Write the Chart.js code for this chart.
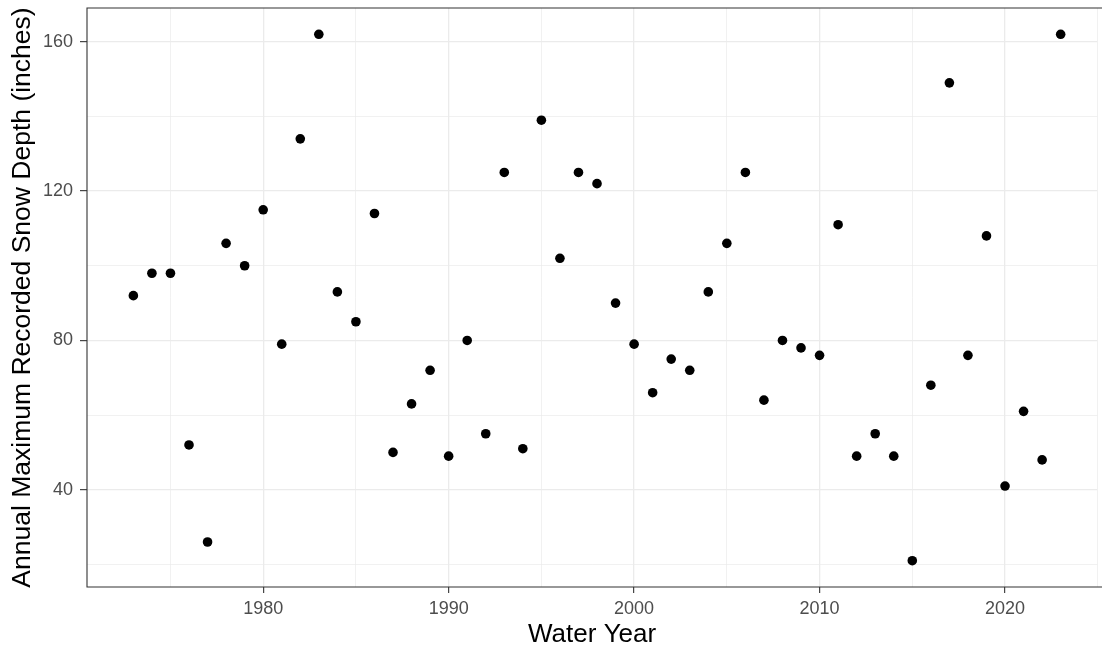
<!DOCTYPE html>
<html>
<head>
<meta charset="utf-8">
<script src="https://cdn.jsdelivr.net/npm/chart.js@4.4.0/dist/chart.umd.min.js"></script>
<style>
  html, body { margin: 0; padding: 0; background: #ffffff; overflow: hidden; }
  #wrap { position: relative; width: 1102px; height: 650px; overflow: hidden; }
  #c { display: block; }
</style>
</head>
<body>
<div id="wrap"><canvas id="c" width="1102" height="650"></canvas></div>
<script>
// ---- data ----
const years = [1973,1974,1975,1976,1977,1978,1979,1980,1981,1982,1983,1984,1985,1986,1987,1988,1989,1990,1991,1992,1993,1994,1995,1996,1997,1998,1999,2000,2001,2002,2003,2004,2005,2006,2007,2008,2009,2010,2011,2012,2013,2014,2015,2016,2017,2018,2019,2020,2021,2022,2023];
const snowDepth = [92,98,98,52,26,106,100,115,79,134,162,93,85,114,50,63,72,49,80,55,125,51,139,102,125,122,90,79,66,75,72,93,106,125,64,80,78,76,111,49,55,49,21,68,149,76,108,41,61,48,162];

const xMajorTicks = [1980,1990,2000,2010,2020];
const xMinorTicks = [1975,1985,1995,2005,2015,2025];
const yMajorTicks = [40,80,120,160];
const yMinorTicks = [20,60,100,140];

// visible window (the panel's right edge is cut off by the picture edge)
const xRange = [1970.5, 2024.97];
const yRange = [13.95, 169.05];

const xTitle = 'Water Year';
const yTitle = 'Annual Maximum Recorded Snow Depth (inches)';

// ---- chart ----
const points = years.map((y, i) => ({ x: y, y: snowDepth[i] }));
const FONT = "'Liberation Sans', Arial, Helvetica, sans-serif";

const isMajor = (arr, v) => arr.indexOf(v) !== -1;

const panelBorder = {
  id: 'panelBorder',
  afterDatasetsDraw(chart) {
    const a = chart.chartArea, ctx = chart.ctx;
    ctx.save();
    ctx.strokeStyle = '#333333';
    ctx.lineWidth = 1.1;
    ctx.beginPath();
    ctx.moveTo(chart.width + 2, a.top);
    ctx.lineTo(a.left, a.top);
    ctx.lineTo(a.left, a.bottom);
    ctx.lineTo(chart.width + 2, a.bottom);
    ctx.stroke();
    ctx.restore();
  }
};

function noPad(scale) {
  scale.paddingTop = 0;
  scale.paddingBottom = 0;
  scale.paddingLeft = 0;
  scale.paddingRight = 0;
}

new Chart(document.getElementById('c'), {
  type: 'scatter',
  data: {
    datasets: [{
      data: points,
      backgroundColor: '#000000',
      borderWidth: 0,
      pointRadius: 4.8,
      pointHoverRadius: 4.8
    }]
  },
  options: {
    responsive: false,
    maintainAspectRatio: false,
    devicePixelRatio: 1,
    animation: false,
    events: [],
    layout: { padding: { top: 8, right: 0, bottom: 0, left: 0 } },
    plugins: { legend: { display: false }, tooltip: { enabled: false } },
    scales: {
      x: {
        type: 'linear',
        min: xRange[0],
        max: xRange[1],
        afterBuildTicks(scale) {
          scale.ticks = xMinorTicks.concat(xMajorTicks).sort((a, b) => a - b).map(v => ({ value: v }));
        },
        afterFit(scale) { scale.height = 63; noPad(scale); },
        border: { display: false },
        grid: {
          color: '#ebebeb',
          lineWidth: ctx => isMajor(xMajorTicks, ctx.tick && ctx.tick.value) ? 1.3 : 0.7,
          drawTicks: true,
          tickLength: 6,
          tickColor: ctx => isMajor(xMajorTicks, ctx.tick && ctx.tick.value) ? '#333333' : 'rgba(0,0,0,0)',
          tickWidth: 1.1
        },
        ticks: {
          autoSkip: false,
          maxRotation: 0,
          padding: 5,
          color: '#4d4d4d',
          font: { family: FONT, size: 18 },
          callback: v => isMajor(xMajorTicks, v) ? String(v) : ''
        },
        title: {
          display: true,
          text: xTitle,
          color: '#000000',
          font: { family: FONT, size: 26 },
          padding: { top: 4, bottom: 0 }
        }
      },
      y: {
        type: 'linear',
        min: yRange[0],
        max: yRange[1],
        afterBuildTicks(scale) {
          scale.ticks = yMinorTicks.concat(yMajorTicks).sort((a, b) => a - b).map(v => ({ value: v }));
        },
        afterFit(scale) { scale.width = 87; noPad(scale); },
        border: { display: false },
        grid: {
          color: '#ebebeb',
          lineWidth: ctx => isMajor(yMajorTicks, ctx.tick && ctx.tick.value) ? 1.3 : 0.7,
          drawTicks: true,
          tickLength: 7,
          tickColor: ctx => isMajor(yMajorTicks, ctx.tick && ctx.tick.value) ? '#333333' : 'rgba(0,0,0,0)',
          tickWidth: 1.1
        },
        ticks: {
          autoSkip: false,
          padding: 7,
          color: '#4d4d4d',
          font: { family: FONT, size: 18 },
          callback: v => isMajor(yMajorTicks, v) ? String(v) : ''
        },
        title: {
          display: true,
          text: yTitle,
          color: '#000000',
          font: { family: FONT, size: 26.5 },
          padding: { top: 7, bottom: 0 }
        }
      }
    }
  },
  plugins: [panelBorder]
});
</script>
</body>
</html>
